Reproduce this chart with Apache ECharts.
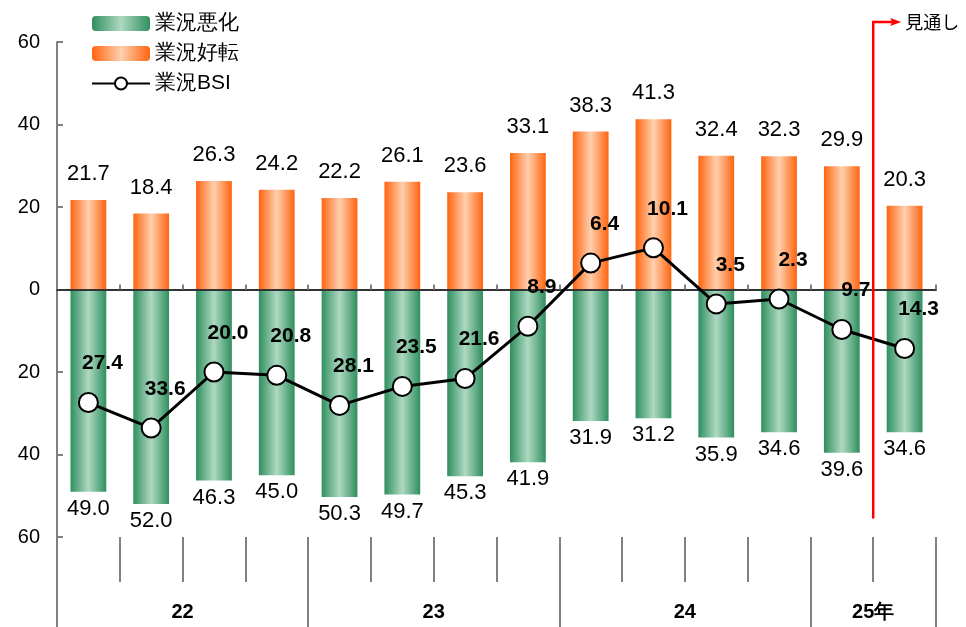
<!DOCTYPE html>
<html><head><meta charset="utf-8">
<script src="https://cdn.jsdelivr.net/npm/echarts@6/dist/echarts.min.js"></script>
<style>html,body{margin:0;padding:0;background:#fff}#c{width:966px;height:627px}</style>
</head><body><div id="c"></div>
<script>
const quarters = ['22Q1','22Q2','22Q3','22Q4','23Q1','23Q2','23Q3','23Q4','24Q1','24Q2','24Q3','24Q4','25Q1','25Q2'];
const worsen = [49.0, 52.0, 46.3, 45.0, 50.3, 49.7, 45.3, 41.9, 31.9, 31.2, 35.9, 34.6, 39.6, 34.6];
const improve = [21.7, 18.4, 26.3, 24.2, 22.2, 26.1, 23.6, 33.1, 38.3, 41.3, 32.4, 32.3, 29.9, 20.3];
const bsi = [-27.4, -33.6, -20.0, -20.8, -28.1, -23.5, -21.6, -8.9, 6.4, 10.1, -3.5, -2.3, -9.7, -14.3];
const yearLabels = ['22', '23', '24', '25年'];
const yearSizes = [4, 4, 4, 2];
const forecastStart = 12;

const FONT = 'Liberation Sans, Arial, sans-serif';
const boundaries = [];
for (let i = 0; i <= quarters.length; i++) boundaries.push('b' + i);
const yearLabelAt = {};
const yearBoundary = {0: true};
let acc = 0;
yearSizes.forEach((s, k) => { yearLabelAt[acc + s / 2] = yearLabels[k]; acc += s; yearBoundary[acc] = true; });

function grad(edge, mid) {
  return new echarts.graphic.LinearGradient(0, 0, 1, 0, [
    {offset: 0, color: edge}, {offset: 0.5, color: mid}, {offset: 1, color: edge}
  ]);
}
const green = grad('#2f8f5e', '#aed9c2');
const orange = grad('#ff6410', '#ffd0ae');

const chart = echarts.init(document.getElementById('c'));
chart.setOption({
  animation: false,
  backgroundColor: '#fff',
  textStyle: {fontFamily: FONT},
  grid: {left: 57, right: 30, top: 42, bottom: 90, containLabel: false},
  legend: {
    orient: 'vertical', left: 86, top: 8, itemWidth: 58, itemHeight: 15, itemGap: 9,
    textStyle: {fontSize: 21, color: '#000', fontFamily: FONT},
    data: ['業況悪化', '業況好転', '業況BSI']
  },
  xAxis: [
    {
      type: 'category', data: quarters, z: 5,
      axisLine: {onZero: true, lineStyle: {color: '#333', width: 2}},
      axisTick: {show: true, inside: true, length: 5, lineStyle: {color: '#808080', width: 2}},
      axisLabel: {show: false}, splitLine: {show: false}
    },
    {
      type: 'category', data: boundaries, boundaryGap: false, position: 'bottom',
      axisLine: {show: false, onZero: false},
      axisTick: {show: true, length: 45, interval: 0, lineStyle: {color: '#808080', width: 2}},
      axisLabel: {show: false}
    },
    {
      type: 'category', data: boundaries, boundaryGap: false, position: 'bottom',
      axisLine: {show: false, onZero: false},
      axisTick: {show: true, length: 90, interval: (i) => !!yearBoundary[i], lineStyle: {color: '#808080', width: 2}},
      axisLabel: {
        show: true, interval: 0, margin: 65, fontSize: 20, fontWeight: 'bold', color: '#000', fontFamily: FONT,
        formatter: (v, i) => yearLabelAt[i] || ''
      }
    }
  ],
  yAxis: {
    type: 'value', min: -60, max: 60, interval: 20,
    axisLine: {show: true, lineStyle: {color: '#808080', width: 2}},
    axisTick: {show: true, inside: true, length: 6, lineStyle: {color: '#808080', width: 2}},
    axisLabel: {fontSize: 20, color: '#000', margin: 17, fontFamily: FONT, formatter: v => String(Math.abs(v))},
    splitLine: {show: false}
  },
  series: [
    {
      name: '業況悪化', type: 'bar', barWidth: '57%', barGap: '-100%',
      data: worsen.map(v => -v),
      itemStyle: {color: green},
      label: {show: true, position: 'bottom', distance: 6, fontSize: 22, color: '#000', fontFamily: FONT,
        formatter: p => Math.abs(p.value).toFixed(1)}
    },
    {
      name: '業況好転', type: 'bar', barWidth: '57%', barGap: '-100%',
      data: improve,
      itemStyle: {color: orange},
      label: {show: true, position: 'top', distance: 15, fontSize: 22, color: '#000', fontFamily: FONT,
        formatter: p => p.value.toFixed(1)}
    },
    {
      name: '業況BSI', type: 'line', data: bsi, z: 10,
      symbol: 'circle', symbolSize: 19,
      lineStyle: {color: '#000', width: 3},
      itemStyle: {color: '#fff', borderColor: '#000', borderWidth: 2},
      label: {show: true, position: 'top', distance: 5, offset: [14, -13], fontSize: 21, fontWeight: 'bold',
        color: '#000', fontFamily: FONT, formatter: p => Math.abs(p.value).toFixed(1)}
    }
  ]
});

const fx = chart.convertToPixel({xAxisIndex: 2}, 'b' + (forecastStart + 1));
const yTop = chart.convertToPixel({yAxisIndex: 0}, 60) - 20;
const yBot = chart.convertToPixel({yAxisIndex: 0}, -55.5);
chart.setOption({
  graphic: [
    {type: 'polyline', z: 20, shape: {points: [[fx, yBot], [fx, yTop], [fx + 20, yTop]]},
      style: {stroke: '#ff0000', lineWidth: 2.5, fill: null}},
    {type: 'polygon', z: 20, shape: {points: [[fx + 28, yTop], [fx + 17, yTop - 4], [fx + 19, yTop], [fx + 17, yTop + 4]]},
      style: {fill: '#ff0000'}},
    {type: 'text', z: 20, x: fx + 32, y: yTop, style: {text: '見通し', font: '18px "Noto Sans CJK JP", sans-serif', fill: '#000', verticalAlign: 'middle'}}
  ]
});
</script>
</body></html>
